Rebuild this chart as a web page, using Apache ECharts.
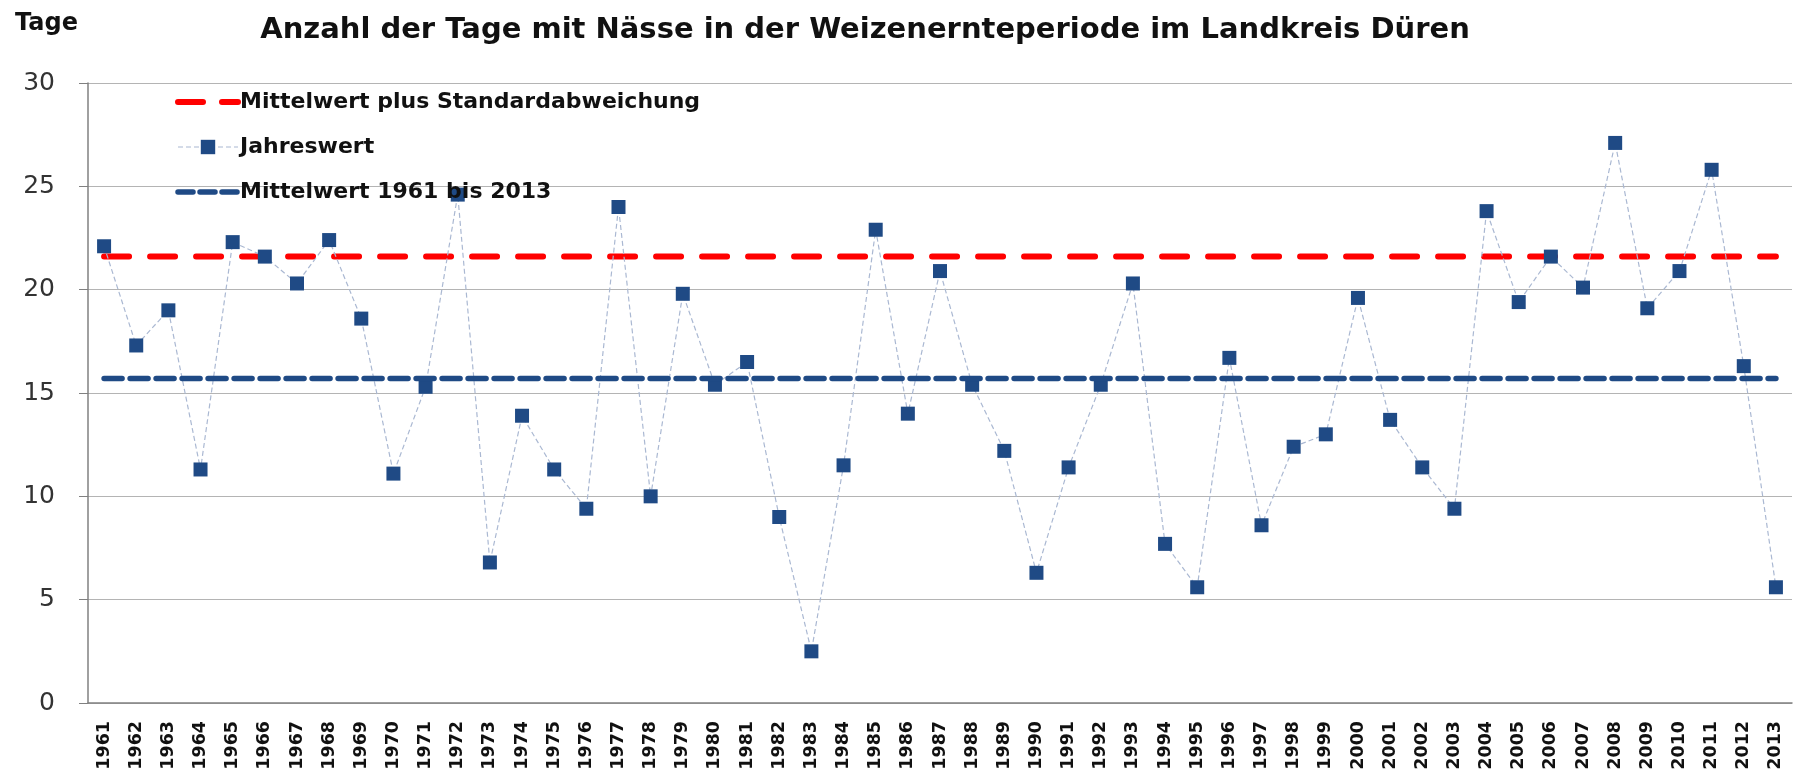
<!DOCTYPE html>
<html>
<head>
<meta charset="utf-8">
<script src="https://cdn.jsdelivr.net/npm/echarts@6/dist/echarts.min.js"></script>
<style>
html,body{margin:0;padding:0;background:#fff;}
#chart{width:1800px;height:775px;}
</style>
</head>
<body>
<div id="chart"></div>
<script>
const years = ['1961','1962','1963','1964','1965','1966','1967','1968','1969','1970',
  '1971','1972','1973','1974','1975','1976','1977','1978','1979','1980',
  '1981','1982','1983','1984','1985','1986','1987','1988','1989','1990',
  '1991','1992','1993','1994','1995','1996','1997','1998','1999','2000',
  '2001','2002','2003','2004','2005','2006','2007','2008','2009','2010',
  '2011','2012','2013'];
const jahreswert = [22.1,17.3,19.0,11.3,22.3,21.6,20.3,22.4,18.6,11.1,
  15.3,24.6,6.8,13.9,11.3,9.4,24.0,10.0,19.8,15.4,
  16.5,9.0,2.5,11.5,22.9,14.0,20.9,15.4,12.2,6.3,
  11.4,15.4,20.3,7.7,5.6,16.7,8.6,12.4,13.0,19.6,
  13.7,11.4,9.4,23.8,19.4,21.6,20.1,27.1,19.1,20.9,
  25.8,16.3,5.6];
const mittelwert = 15.7;
const mittelwertPlusSd = 21.6;

const titleText = 'Anzahl der Tage mit Nässe in der Weizenernteperiode im Landkreis Düren';
const yUnit = 'Tage';
const nameSd = 'Mittelwert plus Standardabweichung';
const nameJahr = 'Jahreswert';
const nameMean = 'Mittelwert 1961 bis 2013';

const chart = echarts.init(document.getElementById('chart'), null, {renderer: 'canvas'});
const FONT = '"DejaVu Sans", sans-serif';

chart.setOption({
  animation: false,
  backgroundColor: '#ffffff',
  graphic: [
    {type: 'text', x: 865, y: 30, style: {text: titleText, font: 'bold 29px ' + FONT, fill: '#111', textAlign: 'center', textVerticalAlign: 'middle'}},
    {type: 'text', x: 15, y: 24, style: {text: yUnit, font: 'bold 24px ' + FONT, fill: '#111', textAlign: 'left', textVerticalAlign: 'middle'}}
  ],
  legend: {
    orient: 'vertical',
    left: 170,
    top: 86,
    itemWidth: 60,
    itemHeight: 18,
    itemGap: 23,
    selectedMode: false,
    textStyle: {fontFamily: FONT, fontWeight: 'bold', fontSize: 22, color: '#111', padding: [0,0,0,-3]},
    data: [
      {name: nameSd, itemStyle: {opacity: 0}, lineStyle: {width: 6, type: [25, 19], color: '#ff0000'}},
      {name: nameJahr, lineStyle: {width: 1.2, type: [5, 3], color: '#aab8d2'}},
      {name: nameMean, itemStyle: {opacity: 0}, lineStyle: {width: 5.5, type: [15, 7], color: '#1f4a85'}}
    ]
  },
  grid: {left: 88, right: 8, top: 83, bottom: 72},
  xAxis: {
    type: 'category',
    data: years,
    axisLine: {lineStyle: {color: '#808080', width: 1.5}},
    axisTick: {length: 8, lineStyle: {color: '#808080', width: 1}},
    axisLabel: {rotate: 90, interval: 0, margin: 18, fontFamily: FONT, fontWeight: 'bold', fontSize: 17.5, color: '#111'}
  },
  yAxis: {
    type: 'value',
    min: 0,
    max: 30,
    interval: 5,
    axisLine: {show: true, lineStyle: {color: '#808080', width: 1.5}},
    axisTick: {show: true, length: 9, lineStyle: {color: '#808080'}},
    axisLabel: {margin: 33, fontFamily: FONT, fontSize: 25, color: '#333'},
    splitLine: {show: true, lineStyle: {color: '#b4b4b4', width: 1}}
  },
  series: [
    {
      name: nameSd,
      type: 'line',
      data: years.map(() => mittelwertPlusSd),
      symbol: 'none',
      showSymbol: false,
      z: 2,
      lineStyle: {color: '#ff0000', width: 6, type: [25, 21], cap: 'round'},
      itemStyle: {color: '#ff0000'}
    },
    {
      name: nameJahr,
      type: 'line',
      data: jahreswert,
      symbol: 'rect',
      symbolSize: 14,
      z: 3,
      itemStyle: {color: '#1f4a85'},
      lineStyle: {color: '#aab8d2', width: 1.2, type: [5, 3]}
    },
    {
      name: nameMean,
      type: 'line',
      data: years.map(() => mittelwert),
      symbol: 'none',
      showSymbol: false,
      z: 4,
      lineStyle: {color: '#1f4a85', width: 5.5, type: [18, 8], cap: 'round'},
      itemStyle: {color: '#1f4a85'}
    }
  ]
});
</script>
</body>
</html>
